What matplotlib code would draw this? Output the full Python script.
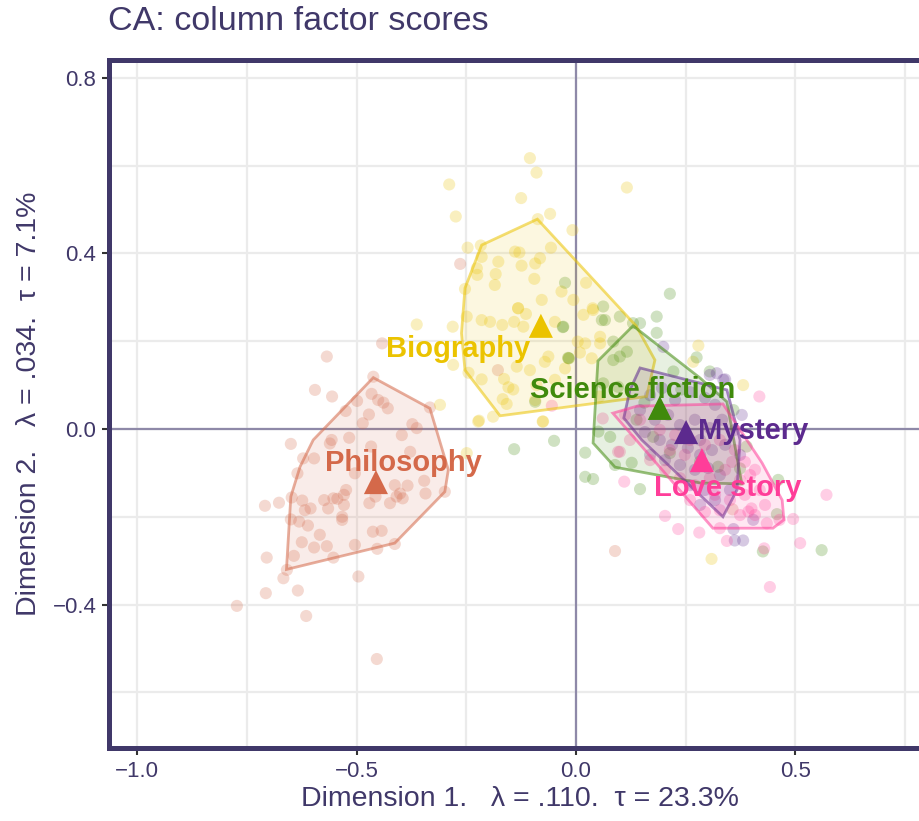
import matplotlib
matplotlib.use("Agg")
import matplotlib.pyplot as plt
import numpy as np

plt.rcParams['font.family'] = ['Liberation Sans', 'DejaVu Sans']

INK = '#403869'

# group names, colours, centroids (triangles) and label positions
groups = ['Philosophy', 'Biography', 'Science fiction', 'Mystery', 'Love story']
colors = ['#D4694A', '#EBC300', '#408A0C', '#5C2A8E', '#FF3D99']
centroid_x = [-0.456, -0.080, 0.191, 0.251, 0.287]
centroid_y = [-0.121, 0.235, 0.048, -0.007, -0.071]
label_x = [-0.394, -0.269, 0.130, 0.403, 0.346]
label_y = [-0.077, 0.182, 0.089, -0.005, -0.134]

# bootstrap factor scores per group
philo_x = [-0.568, -0.595, -0.556, -0.462, -0.442, -0.466, -0.451, -0.439, -0.429, -0.499,
           -0.525, -0.472, -0.486, -0.373, -0.363, -0.333, -0.397, -0.517, -0.557, -0.561,
           -0.650, -0.467, -0.378, -0.622, -0.597, -0.635, -0.504, -0.346, -0.413, -0.384,
           -0.299, -0.343, -0.401, -0.409, -0.395, -0.524, -0.529, -0.457, -0.709, -0.677,
           -0.648, -0.624, -0.574, -0.553, -0.544, -0.529, -0.471, -0.424, -0.618, -0.605,
           -0.565, -0.650, -0.631, -0.611, -0.533, -0.533, -0.463, -0.443, -0.584, -0.625,
           -0.597, -0.568, -0.504, -0.453, -0.413, -0.553, -0.643, -0.705, -0.659, -0.667,
           -0.496, -0.707, -0.634, -0.773, -0.615, -0.454, -0.264, -0.178, 0.089, 0.357]
philo_y = [0.165, 0.089, 0.074, 0.119, 0.195, 0.080, 0.066, 0.060, 0.047, 0.064,
           0.041, 0.033, 0.013, 0.011, 0.002, 0.049, -0.014, -0.020, -0.025, -0.033,
           -0.034, -0.040, -0.052, -0.067, -0.067, -0.101, -0.101, -0.118, -0.128, -0.129,
           -0.143, -0.147, -0.147, -0.154, -0.158, -0.139, -0.150, -0.154, -0.175, -0.168,
           -0.156, -0.163, -0.162, -0.158, -0.159, -0.173, -0.169, -0.169, -0.185, -0.181,
           -0.181, -0.206, -0.211, -0.220, -0.200, -0.207, -0.234, -0.232, -0.241, -0.258,
           -0.270, -0.267, -0.264, -0.273, -0.262, -0.293, -0.289, -0.293, -0.321, -0.340,
           -0.336, -0.374, -0.368, -0.403, -0.426, -0.524, 0.376, 0.134, -0.278, -0.183]

bio_x = [-0.105, -0.090, -0.289, 0.116, -0.125, -0.274, -0.059, -0.087, -0.008, -0.247,
         -0.217, -0.057, -0.139, -0.129, -0.215, -0.177, -0.124, -0.093, -0.082, -0.226,
         -0.225, -0.183, -0.095, -0.185, -0.253, -0.033, -0.078, -0.006, -0.132, 0.023,
         0.038, -0.363, -0.281, -0.249, -0.215, -0.196, -0.168, -0.141, -0.120, -0.132,
         -0.114, -0.048, 0.017, 0.039, 0.004, 0.021, 0.055, 0.055, 0.009, -0.063,
         -0.017, 0.036, -0.025, -0.071, -0.105, -0.135, -0.215, -0.164, -0.154, -0.143,
         -0.048, -0.090, -0.167, -0.158, -0.093, 0.053, -0.189, -0.075, -0.221, -0.310,
         -0.249, -0.280, -0.245, -0.223, -0.076, 0.381, 0.279, 0.267, 0.309]
bio_y = [0.617, 0.584, 0.557, 0.550, 0.526, 0.484, 0.490, 0.478, 0.453, 0.413,
         0.418, 0.413, 0.404, 0.402, 0.392, 0.381, 0.372, 0.377, 0.389, 0.366,
         0.351, 0.353, 0.342, 0.328, 0.319, 0.313, 0.294, 0.294, 0.275, 0.333,
         0.275, 0.238, 0.233, 0.256, 0.248, 0.244, 0.237, 0.244, 0.233, 0.275,
         0.262, 0.244, 0.260, 0.271, 0.199, 0.195, 0.210, 0.195, 0.174, 0.165,
         0.161, 0.161, 0.138, 0.153, 0.134, 0.142, 0.113, 0.114, 0.095, 0.090,
         0.112, 0.100, 0.068, 0.057, 0.066, 0.074, 0.028, 0.017, 0.019, 0.055,
         -0.055, 0.146, 0.128, 0.017, 0.017, 0.100, 0.190, 0.153, -0.296]

scifi_x = [-0.029, 0.062, 0.059, 0.130, 0.146, 0.100, 0.085, -0.093, -0.050, -0.141,
           0.021, 0.051, -0.018, -0.025, -0.030, 0.066, 0.100, 0.184, 0.214, -0.016,
           0.184, 0.275, 0.305, 0.222, 0.116, 0.085, 0.062, 0.096, 0.039, 0.089,
           0.127, 0.146, 0.560, 0.426, 0.359, 0.078, 0.176, 0.138, 0.214, 0.283,
           0.324, 0.374, 0.389, 0.458, 0.461, 0.021, 0.156, 0.240]
scifi_y = [0.233, 0.279, 0.248, 0.241, 0.241, 0.165, 0.199, 0.062, -0.027, -0.046,
           -0.054, -0.006, 0.162, 0.333, 0.232, 0.248, 0.256, 0.256, 0.308, 0.161,
           0.219, 0.163, 0.131, 0.131, 0.176, 0.157, 0.104, 0.096, -0.114, -0.082,
           -0.077, -0.137, -0.276, -0.279, 0.043, -0.018, -0.018, 0.021, -0.055, -0.074,
           -0.086, -0.090, -0.040, -0.194, -0.116, -0.109, 0.060, 0.090]

myst_x = [0.169, 0.196, 0.226, 0.260, 0.294, 0.317, 0.146, 0.180, 0.210, 0.237,
          0.271, 0.305, 0.333, 0.157, 0.191, 0.219, 0.255, 0.283, 0.310, 0.340,
          0.203, 0.237, 0.271, 0.301, 0.328, 0.260, 0.294, 0.317, 0.351, 0.283,
          0.169, 0.374, 0.362, 0.248, 0.283, 0.362, 0.381, 0.404, 0.359, 0.321,
          0.340, 0.378, 0.199, 0.336, 0.305]
myst_y = [0.077, 0.093, 0.066, 0.084, 0.071, 0.055, 0.043, 0.021, 0.032, 0.009,
          0.021, 0.002, 0.021, -0.007, -0.025, -0.036, -0.043, -0.025, -0.048, -0.036,
          -0.071, -0.082, -0.093, -0.089, -0.105, -0.128, -0.139, -0.162, -0.139, -0.173,
          -0.059, -0.059, -0.002, -0.021, -0.059, -0.254, -0.254, -0.207, -0.228, 0.127,
          0.113, 0.032, 0.187, 0.112, 0.123]

love_x = [0.112, 0.146, 0.191, 0.226, 0.260, 0.294, 0.328, 0.362, 0.385, 0.397,
          0.374, 0.340, 0.305, 0.271, 0.237, 0.203, 0.169, 0.317, 0.351, 0.385,
          0.419, 0.328, 0.374, 0.294, 0.260, 0.408, 0.283, 0.248, 0.214, 0.356,
          0.431, 0.123, 0.408, 0.110, 0.203, 0.233, 0.281, 0.344, 0.511, 0.571,
          0.429, 0.400, 0.393, 0.495, 0.435, 0.328, 0.096, 0.418, 0.061, 0.100,
          0.464, -0.055, 0.442]
love_y = [0.032, 0.021, -0.002, -0.014, -0.025, -0.036, -0.025, -0.048, -0.075, -0.105,
          -0.116, -0.093, -0.112, -0.128, -0.112, -0.093, -0.071, -0.150, -0.162, -0.150,
          -0.139, -0.185, -0.196, -0.189, -0.162, -0.093, -0.082, -0.059, -0.048, -0.075,
          -0.173, -0.025, -0.196, -0.120, -0.198, -0.228, -0.236, -0.255, -0.260, -0.150,
          -0.272, -0.181, -0.188, -0.205, -0.215, -0.226, -0.052, 0.074, 0.024, -0.052,
          -0.207, 0.053, -0.360]

# peeled convex hulls (vertices)
philo_hull_x = [-0.462, -0.333, -0.291, -0.299, -0.413, -0.660, -0.650, -0.629, -0.599]
philo_hull_y = [0.117, 0.047, -0.093, -0.143, -0.260, -0.320, -0.154, -0.086, -0.025]
bio_hull_x = [-0.088, -0.215, -0.253, -0.261, -0.253, -0.173, 0.161, 0.180, 0.137]
bio_hull_y = [0.478, 0.419, 0.321, 0.218, 0.134, 0.030, 0.074, 0.157, 0.235]
scifi_hull_x = [0.130, 0.050, 0.039, 0.089, 0.283, 0.378, 0.344, 0.283]
scifi_hull_y = [0.235, 0.155, -0.032, -0.087, -0.123, -0.125, 0.062, 0.116]
myst_hull_x = [0.146, 0.344, 0.374, 0.367, 0.335, 0.150, 0.109, 0.123]
myst_hull_y = [0.139, 0.089, -0.025, -0.139, -0.200, -0.025, 0.025, 0.089]
love_hull_x = [0.084, 0.139, 0.335, 0.424, 0.470, 0.474, 0.449, 0.312]
love_hull_y = [0.036, 0.052, 0.057, -0.077, -0.162, -0.207, -0.226, -0.226]

points = [(philo_x, philo_y), (bio_x, bio_y), (scifi_x, scifi_y),
          (myst_x, myst_y), (love_x, love_y)]
hulls = [(philo_hull_x, philo_hull_y), (bio_hull_x, bio_hull_y),
         (scifi_hull_x, scifi_hull_y), (myst_hull_x, myst_hull_y),
         (love_hull_x, love_hull_y)]

fig = plt.figure(figsize=(9.2, 8.21), dpi=100)
ax = fig.add_axes([109 / 920, 73 / 821, (930 - 109) / 920, (761 - 73) / 821])

ax.set_xlim(-1.0645, 0.807)
ax.set_ylim(-0.7267, 0.8405)

# grid
ax.set_xticks([-1.0, -0.5, 0.0, 0.5])
ax.set_yticks([-0.4, 0.0, 0.4, 0.8])
ax.set_xticks([-0.75, -0.25, 0.25, 0.75], minor=True)
ax.set_yticks([-0.6, -0.2, 0.2, 0.6], minor=True)
ax.grid(True, which='both', color='#EBEBEB', linewidth=1.6, zorder=0)
ax.set_axisbelow(True)

ax.axhline(0, color='#8E89A8', linewidth=1.6, zorder=1)
ax.axvline(0, color='#8E89A8', linewidth=1.6, zorder=1)

# bootstrap points
for (px, py), c in zip(points, colors):
    ax.scatter(px, py, s=76, color=c, alpha=0.25, edgecolors='none', zorder=2)

# hulls
for (hx, hy), c in zip(hulls, colors):
    ax.fill(hx, hy, facecolor=c, alpha=0.12, edgecolor='none', zorder=3)
    ax.fill(hx, hy, facecolor='none', edgecolor=c, alpha=0.55, linewidth=2.0, zorder=3)

# centroids
for i, c in enumerate(colors):
    ax.scatter(centroid_x[i], centroid_y[i], marker='^', s=300, color=c,
               edgecolors='none', zorder=5)

for i, g in enumerate(groups):
    ax.text(label_x[i], label_y[i], g, color=colors[i], fontsize=21, fontweight='bold',
            ha='center', va='center', zorder=6)

for side in ['left', 'bottom', 'top']:
    ax.spines[side].set_color(INK)
    ax.spines[side].set_linewidth(3.6)
ax.spines['right'].set_visible(False)

ax.tick_params(which='major', length=5, width=1.5, color='#333333', labelsize=16,
               labelcolor=INK, pad=4)
ax.tick_params(which='minor', length=0)
ax.set_xticklabels(['\u22121.0', '\u22120.5', '0.0', '0.5'])
ax.set_yticklabels(['\u22120.4', '0.0', '0.4', '0.8'])

ax.set_xlabel('Dimension 1.   \u03bb = .110.  \u03c4 = 23.3%', fontsize=20.5, color=INK,
              labelpad=3)
ax.set_ylabel('Dimension 2.   \u03bb = .034.  \u03c4 = 7.1%', fontsize=20.5, color=INK,
              labelpad=8)

fig.text(108 / 920, 1 - 22 / 821, 'CA: column factor scores', fontsize=24.5, color=INK,
         ha='left', va='center')

fig.savefig('out.png', dpi=100)
